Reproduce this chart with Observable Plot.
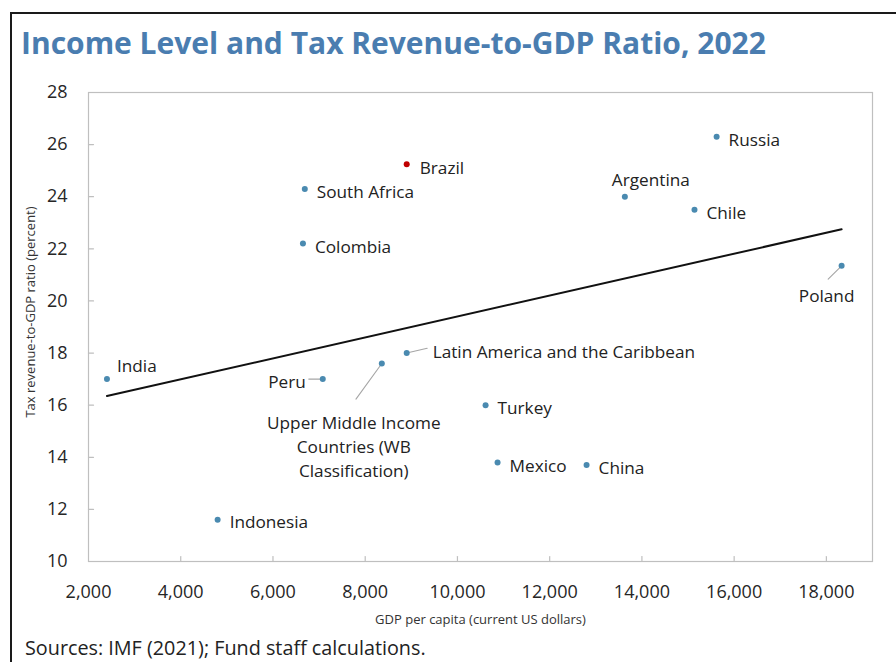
<!DOCTYPE html>
<html>
<head>
<meta charset="utf-8">
<script src="https://cdn.jsdelivr.net/npm/d3@7"></script>
<script src="https://cdn.jsdelivr.net/npm/@observablehq/plot@0.6"></script>
<style>
  html, body { margin: 0; padding: 0; background: #fff; }
  #wrap { position: relative; width: 896px; height: 662px; overflow: hidden; background: #fff; font-family: "Open Sans", "Noto Sans", sans-serif; }
  #border { position: absolute; left: 10px; top: 12px; width: 920px; height: 700px; border-left: 2px solid #1a1a1a; border-top: 2px solid #1a1a1a; box-sizing: border-box; z-index: 2; pointer-events: none; }
  #title { position: absolute; left: 21px; top: 25px; font-size: 30px; font-weight: 700; color: #4a7db0; line-height: 36px; white-space: nowrap; }
  #chart { position: absolute; left: 0; top: 80px; }
  #caption { position: absolute; left: 25px; top: 636px; font-size: 19.8px; color: #222; line-height: 24px; white-space: nowrap; }
</style>
</head>
<body>
<div id="wrap">
  <div id="border"></div>
  <div id="title">Income Level and Tax Revenue-to-GDP Ratio, 2022</div>
  <div id="chart"></div>
  <div id="caption">Sources: IMF (2021); Fund staff calculations.</div>
</div>
<script>
// ---- Data ----
const countries = ["India", "Indonesia", "Peru", "Upper Middle Income Countries (WB Classification)",
  "Latin America and the Caribbean", "Turkey", "Mexico", "China", "South Africa", "Colombia",
  "Brazil", "Argentina", "Chile", "Russia", "Poland"];
const gdpPerCapita = [2400, 4800, 7080, 8360, 8900, 10610, 10870, 12800, 6690, 6650, 8900, 13630, 15140, 15620, 18330];
const taxRatio = [17.0, 11.6, 17.0, 17.6, 18.0, 16.0, 13.8, 13.7, 24.3, 22.2, 25.25, 24.0, 23.5, 26.3, 21.35];
const highlighted = ["Brazil"];

const trendGdp = [2400, 18330];
const trendTax = [16.35, 22.75];

const xTicks = [2000, 4000, 6000, 8000, 10000, 12000, 14000, 16000, 18000];
const yTicks = [10, 12, 14, 16, 18, 20, 22, 24, 26, 28];

const xLabel = "GDP per capita (current US dollars)";
const yLabel = "Tax revenue-to-GDP ratio (percent)";

// ---- Table built from arrays ----
const points = countries.map((name, i) => ({name, gdp: gdpPerCapita[i], tax: taxRatio[i]}));
const trend = trendGdp.map((g, i) => ({gdp: g, tax: trendTax[i]}));

// ---- Label layout (pixel offsets; style, not data) ----
const labelLayout = {
  "India": {dx: 10, dy: -15, anchor: "start"},
  "Indonesia": {dx: 12, dy: 1, anchor: "start"},
  "Peru": {dx: -17, dy: 1, anchor: "end"},
  "Upper Middle Income Countries (WB Classification)": {dx: -28, dy: 82, anchor: "middle", text: "Upper Middle Income\nCountries (WB\nClassification)"},
  "Latin America and the Caribbean": {dx: 26, dy: -3, anchor: "start"},
  "Turkey": {dx: 12, dy: 1, anchor: "start"},
  "Mexico": {dx: 12, dy: 2, anchor: "start"},
  "China": {dx: 12, dy: 1, anchor: "start"},
  "South Africa": {dx: 12, dy: 1, anchor: "start"},
  "Colombia": {dx: 12, dy: 2, anchor: "start"},
  "Brazil": {dx: 13, dy: 2, anchor: "start"},
  "Argentina": {dx: 26, dy: -18, anchor: "middle"},
  "Chile": {dx: 12, dy: 2, anchor: "start"},
  "Russia": {dx: 12, dy: 2, anchor: "start"},
  "Poland": {dx: -15, dy: 29, anchor: "middle"}
};
const leaderLayout = {
  "Peru": {length: 14, angle: 270},
  "Upper Middle Income Countries (WB Classification)": {length: 44, angle: 216},
  "Latin America and the Caribbean": {length: 21, angle: 77},
  "Poland": {length: 19, angle: 225}
};

const lineShape = {draw(context, l) { context.moveTo(0, 0); context.lineTo(0, -l); }};

const leaders = points.filter(d => leaderLayout[d.name]);

const labelMarks = points.map(d => {
  const L = labelLayout[d.name];
  return Plot.text([d], {
    x: "gdp", y: "tax", text: () => L.text || d.name,
    dx: L.dx, dy: L.dy, textAnchor: L.anchor, lineAnchor: "middle", lineHeight: 1.38,
    fontSize: 17.2, fill: "#222"
  });
});

const chart = Plot.plot({
  width: 896,
  height: 553,
  marginLeft: 88,
  marginRight: 24,
  marginTop: 12,
  marginBottom: 72,
  style: {fontFamily: "'Open Sans', 'Noto Sans', sans-serif", color: "#262626", background: "transparent"},
  x: {domain: [2000, 19000]},
  y: {domain: [10, 28]},
  length: {type: "identity"},
  marks: [
    Plot.frame({stroke: "#bfbfbf", strokeWidth: 1.2}),
    // inward tick marks
    Plot.vector(yTicks.slice(1, -1), {x: () => 2000, y: d => d, length: 5, rotate: 90, anchor: "start", shape: lineShape, stroke: "#bfbfbf", strokeWidth: 1.2}),
    Plot.vector(xTicks.slice(1), {x: d => d, y: () => 10, length: 5, rotate: 0, anchor: "start", shape: lineShape, stroke: "#bfbfbf", strokeWidth: 1.2}),
    Plot.axisY(yTicks, {tickSize: 0, tickPadding: 21, fontSize: 18, label: null, fill: "#262626"}),
    Plot.axisX(xTicks, {tickSize: 0, tickPadding: 24, fontSize: 18, label: null, tickFormat: d3.format(","), fill: "#262626"}),
    Plot.text([xLabel], {frameAnchor: "bottom", dy: 58, text: d => d, fontSize: 13, fill: "#333", lineAnchor: "middle", textAnchor: "middle"}),
    Plot.text([yLabel], {frameAnchor: "left", dx: -58, dy: -15, rotate: -90, text: d => d, fontSize: 13, fill: "#333", lineAnchor: "middle", textAnchor: "middle"}),
    Plot.line(trend, {x: "gdp", y: "tax", stroke: "#111", strokeWidth: 2}),
    Plot.vector(leaders, {x: "gdp", y: "tax", length: d => leaderLayout[d.name].length, rotate: d => leaderLayout[d.name].angle, anchor: "start", shape: lineShape, stroke: "#a6a6a6", strokeWidth: 1.1}),
    Plot.dot(points, {x: "gdp", y: "tax", r: 3, fill: d => highlighted.includes(d.name) ? "#c00000" : "#4a8ab0", stroke: "none"}),
    ...labelMarks
  ]
});
document.getElementById("chart").appendChild(chart);
</script>
</body>
</html>
